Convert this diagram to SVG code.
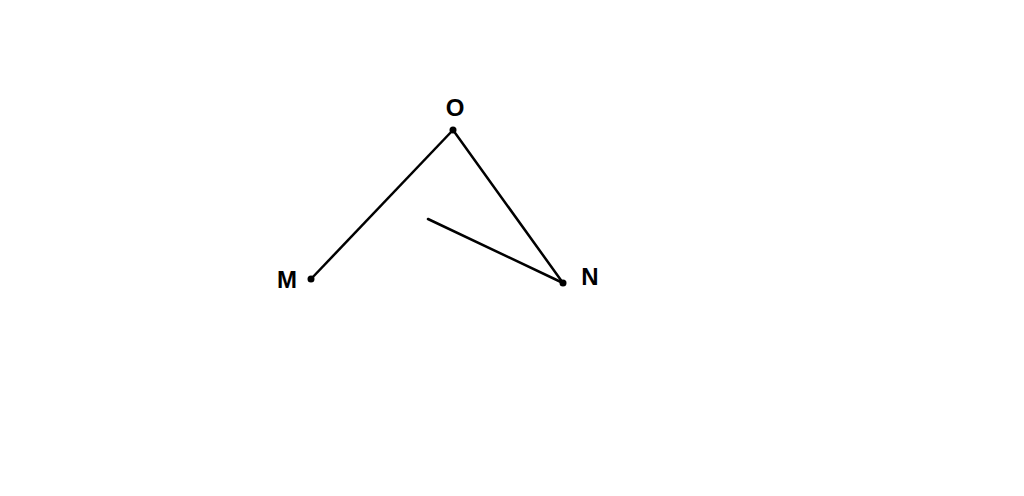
<svg xmlns="http://www.w3.org/2000/svg" width="1024" height="496" viewBox="0 0 1024 496">
<style>
.lbl{font-family:"Liberation Sans",Arial,sans-serif;font-weight:bold;font-size:24px;fill:#000}
.ln{stroke:#000;stroke-width:2.5;fill:none;stroke-linecap:round}
.dot{fill:#000}
</style>
<rect width="1024" height="496" fill="#fff"/>
<g id="connectors">
<line class="ln" x1="453" y1="130" x2="311" y2="279"/>
<line class="ln" x1="453" y1="130" x2="563" y2="283"/>
<line class="ln" x1="428" y1="219" x2="563" y2="283"/>
</g>
<g id="node-O"><circle class="dot" cx="453" cy="130" r="3.5"/><text class="lbl" x="455" y="116" text-anchor="middle">O</text></g>
<g id="node-M"><circle class="dot" cx="311" cy="279" r="3.5"/><text class="lbl" x="287" y="288" text-anchor="middle">M</text></g>
<g id="node-N"><circle class="dot" cx="563" cy="283" r="3.5"/><text class="lbl" x="590" y="285" text-anchor="middle">N</text></g>
</svg>
